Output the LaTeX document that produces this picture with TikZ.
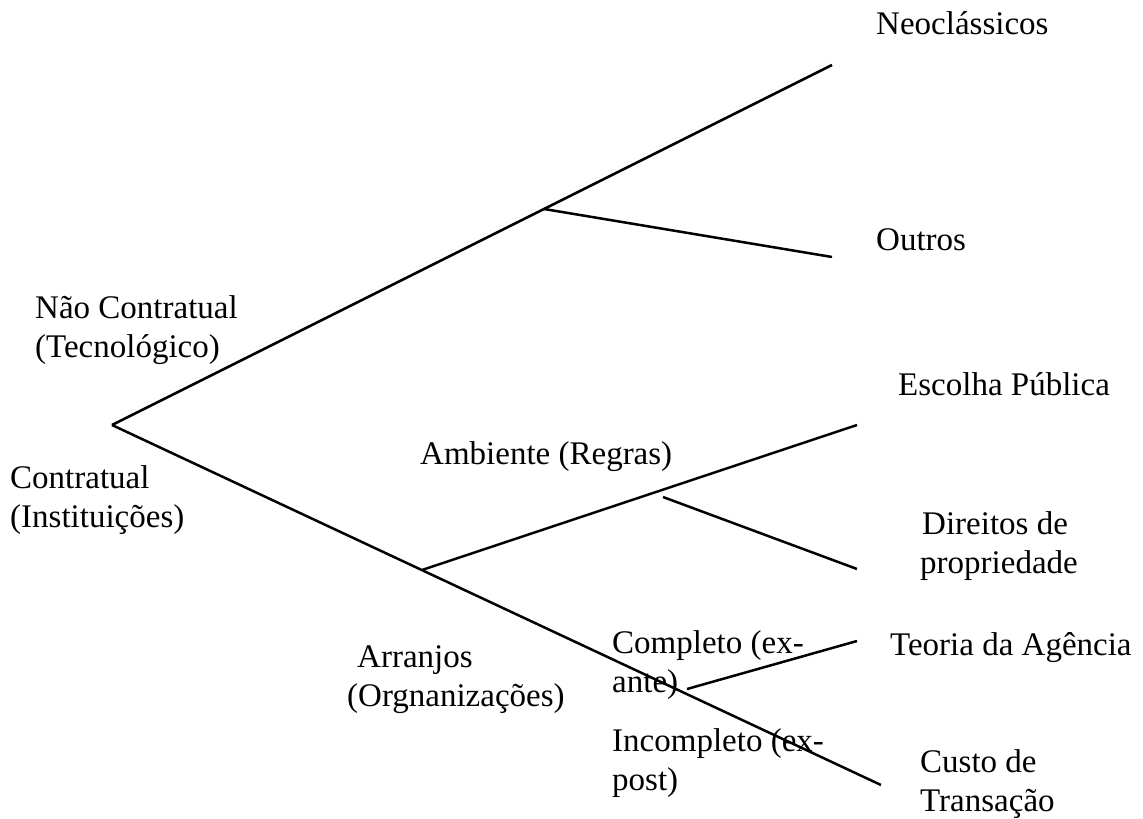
\documentclass[tikz,border=0pt]{standalone}
\usepackage{fontspec}
\setmainfont{Liberation Serif}
\begin{document}
\begin{tikzpicture}[x=1pt,y=-1pt,
  lbl/.style={inner sep=0pt, anchor=west, align=left,
              font=\fontsize{33}{39}\selectfont},
  branch/.style={line width=2.5pt, line cap=butt}]
\useasboundingbox (0,0) rectangle (1143,819);

% branching points and free ends of the tree
\coordinate (root)  at (112,425);
\coordinate (neo)   at (832,65);
\coordinate (split) at (544,209);
\coordinate (outr)  at (832,257);
\coordinate (arr)   at (422,570);
\coordinate (cust)  at (881,785);
\coordinate (esc)   at (857,425);
\coordinate (ambs)  at (663,497);
\coordinate (dir)   at (857,569);
\coordinate (comps) at (687,689);
\coordinate (teo)   at (857,641);

% tree branches
\draw[branch] (root) -- (neo);
\draw[branch] (split) -- (outr);
\draw[branch] (root) -- (cust);
\draw[branch] (arr) -- (esc);
\draw[branch] (ambs) -- (dir);
\draw[branch] (comps) -- (teo);

% labels
\node[lbl] (neoT) at (876,23)  {Neoclássicos};
\node[lbl] (outT) at (876,240) {Outros};
\node[lbl] (naoT) at (35,330)  {Não Contratual\\(Tecnológico)};
\node[lbl] (conT) at (10,500)  {Contratual\\(Instituições)};
\node[lbl] (ambT) at (420,457) {Ambiente (Regras)};
\node[lbl] (escT) at (898,384) {Escolha Pública};
\node[lbl] (dirT) at (920,546) {\hspace*{2pt}Direitos de\\propriedade};
\node[lbl] (arrT) at (347,680) {\hspace*{10pt}Arranjos\\(Orgnanizações)};
\node[lbl] (compT) at (612,665) {Completo (ex-\\ante)};
\node[lbl] (teoT) at (890,648) {Teoria da Agência};
\node[lbl] (incT) at (612,763) {Incompleto (ex-\\post)};
\node[lbl] (cusT) at (920,784) {Custo de\\Transação};
\end{tikzpicture}
\end{document}
